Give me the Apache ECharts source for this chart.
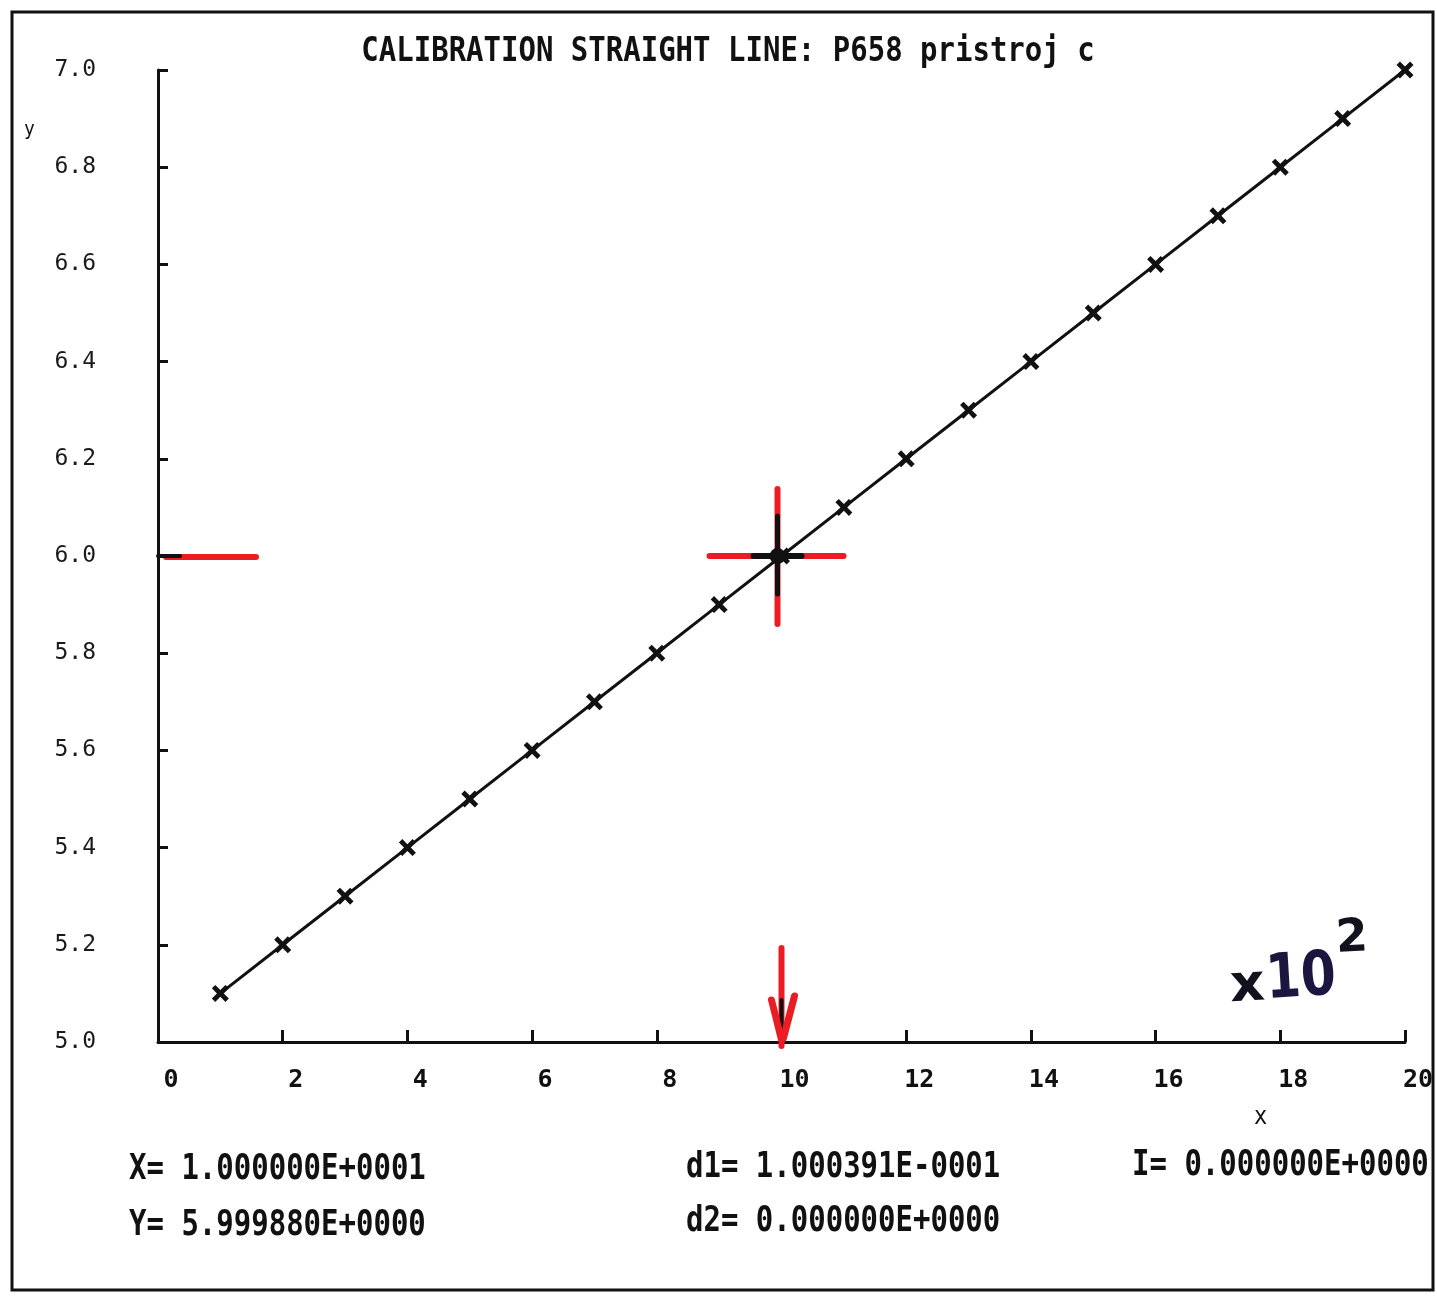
<!DOCTYPE html>
<html>
<head>
<meta charset="utf-8">
<script src="https://cdn.jsdelivr.net/npm/echarts@6/dist/echarts.min.js"></script>
<style>
html,body{margin:0;padding:0;background:#fff;}
#chart{width:1437px;height:1296px;}
</style>
</head>
<body>
<div id="chart"></div>
<script>
// ---- data ----
const xValues = [1, 2, 3, 4, 5, 6, 7, 8, 9, 10, 11, 12, 13, 14, 15, 16, 17, 18, 19, 20];
const yValues = [5.1, 5.2, 5.3, 5.4, 5.5, 5.6, 5.7, 5.8, 5.9, 6.0, 6.1, 6.2, 6.3, 6.4, 6.5, 6.6, 6.7, 6.8, 6.9, 7.0];
const xRange = [0, 20, 2];
const yRange = [5.0, 7.0, 0.2];
const readoutX = 10;
const readoutY = 5.99988;
const titleText = 'CALIBRATION STRAIGHT LINE: P658 pristroj c';
const readoutTexts = ['X= 1.000000E+0001', 'Y= 5.999880E+0000', 'd1= 1.000391E-0001', 'd2= 0.000000E+0000', 'I= 0.000000E+0000'];

const points = xValues.map((x, i) => [x, yValues[i]]);
const MONO = '"DejaVu Sans Mono", "Liberation Mono", monospace';
const RED = '#ec1c24';
const INK = '#111';

const chart = echarts.init(document.getElementById('chart'), null, {renderer: 'canvas'});

function txt(text, x, y, size, opts) {
  opts = opts || {};
  return {
    type: 'text', x: x, y: y, scaleY: opts.scaleY || 1.25, rotation: opts.rotation || 0,
    z: 100,
    style: {
      text: text, fontSize: size, fontFamily: opts.font || MONO,
      fontWeight: opts.weight || 'bold', fill: opts.fill || INK,
      textAlign: opts.align || 'left', textVerticalAlign: 'middle'
    }
  };
}

const option = {
  backgroundColor: '#fff',
  animation: false,
  grid: {left: 158, top: 70, width: 1247, height: 972, containLabel: false},
  xAxis: {
    type: 'value', min: xRange[0], max: xRange[1], interval: xRange[2],
    axisLine: {show: true, onZero: false, lineStyle: {color: INK, width: 3}},
    axisTick: {show: true, inside: true, length: 12, lineStyle: {color: INK, width: 3}},
    axisLabel: {
      margin: 26, fontFamily: MONO, fontWeight: 'bold', fontSize: 25, color: INK,
      padding: [0, 0, 0, 26], showMinLabel: true, showMaxLabel: true
    },
    splitLine: {show: false}
  },
  yAxis: {
    type: 'value', min: yRange[0], max: yRange[1], interval: yRange[2],
    axisLine: {show: true, onZero: false, lineStyle: {color: INK, width: 3}},
    axisTick: {show: true, inside: true, length: 10, lineStyle: {color: INK, width: 3}},
    axisLabel: {
      margin: 62, fontFamily: MONO, fontSize: 23, color: '#1a1a1a',
      padding: [8, 0, 0, 0],
      formatter: v => v.toFixed(1), showMinLabel: true, showMaxLabel: true
    },
    splitLine: {show: false}
  },
  series: [
    {
      type: 'line',
      data: points,
      z: 3,
      lineStyle: {color: INK, width: 3},
      symbol: 'path://M0,2L2,0L5,3L8,0L10,2L7,5L10,8L8,10L5,7L2,10L0,8L3,5Z',
      symbolSize: 17,
      itemStyle: {color: INK, borderWidth: 0},
      emphasis: {disabled: true}
    },
    {
      type: 'custom',
      z: 5,
      data: [[readoutX, readoutY]],
      renderItem: function (params, api) {
        const c = api.coord([api.value(0), api.value(1)]);
        const yAxisPt = api.coord([xRange[0], api.value(1)]);
        const base = api.coord([api.value(0), yRange[0]]);
        const seg = (x1, y1, x2, y2, color, w) => ({
          type: 'line', shape: {x1: x1, y1: y1, x2: x2, y2: y2},
          style: {stroke: color, lineWidth: w, lineCap: 'round'}
        });
        const cx = c[0] - 4, cy = c[1];
        return {
          type: 'group',
          children: [
            // red tick on y axis
            seg(yAxisPt[0] + 8, yAxisPt[1] + 1, yAxisPt[0] + 98, yAxisPt[1] + 1, RED, 6),
            seg(yAxisPt[0], yAxisPt[1], yAxisPt[0] + 22, yAxisPt[1], INK, 4),
            // crosshair
            seg(cx - 68, cy, cx + 66, cy, RED, 6),
            seg(cx, cy - 67, cx, cy + 68, RED, 6),
            seg(cx - 24, cy, cx + 24, cy, INK, 6),
            seg(cx, cy - 40, cx, cy + 38, INK, 5),
            {type: 'circle', shape: {cx: cx, cy: cy, r: 8}, style: {fill: INK}},
            // arrow on x axis
            seg(base[0], base[1] - 94, base[0], base[1] + 4, RED, 6),
            seg(base[0], base[1] - 42, base[0], base[1] - 6, INK, 4),
            seg(base[0] - 10, base[1] - 42, base[0], base[1] - 2, RED, 7),
            seg(base[0] + 13, base[1] - 46, base[0] + 2, base[1] - 4, RED, 7)
          ]
        };
      }
    }
  ],
  graphic: [
    {
      type: 'rect', z: 0,
      shape: {x: 12, y: 12, width: 1421, height: 1278},
      style: {fill: 'none', stroke: INK, lineWidth: 3}
    },
    txt(titleText, 728, 52, 29, {align: 'center', scaleY: 1.15}),
    txt('y', 24, 130, 18, {weight: 'normal', scaleY: 1.1}),
    txt('x', 1254, 1117, 22, {weight: 'normal', scaleY: 1.15}),
    txt(readoutTexts[0], 129, 1170, 29),
    txt(readoutTexts[1], 129, 1226, 29),
    txt(readoutTexts[2], 686, 1168, 29),
    txt(readoutTexts[3], 686, 1222, 29),
    txt(readoutTexts[4], 1132, 1166, 29),
    // handwritten multiplier
    txt('x', 1230, 988, 54, {font: '"DejaVu Sans", sans-serif', weight: 'bold', fill: '#12121e', scaleY: 0.95, rotation: 0.05}),
    txt('10', 1266, 982, 56, {font: '"DejaVu Sans Condensed", "DejaVu Sans", sans-serif', weight: 'bold', fill: '#1a1640', scaleY: 1.1, rotation: 0.06}),
    txt('2', 1336, 940, 46, {font: '"DejaVu Sans", sans-serif', weight: 'bold', fill: '#12121e', scaleY: 1.0, rotation: 0.05})
  ]
};
chart.setOption(option);
</script>
</body>
</html>
